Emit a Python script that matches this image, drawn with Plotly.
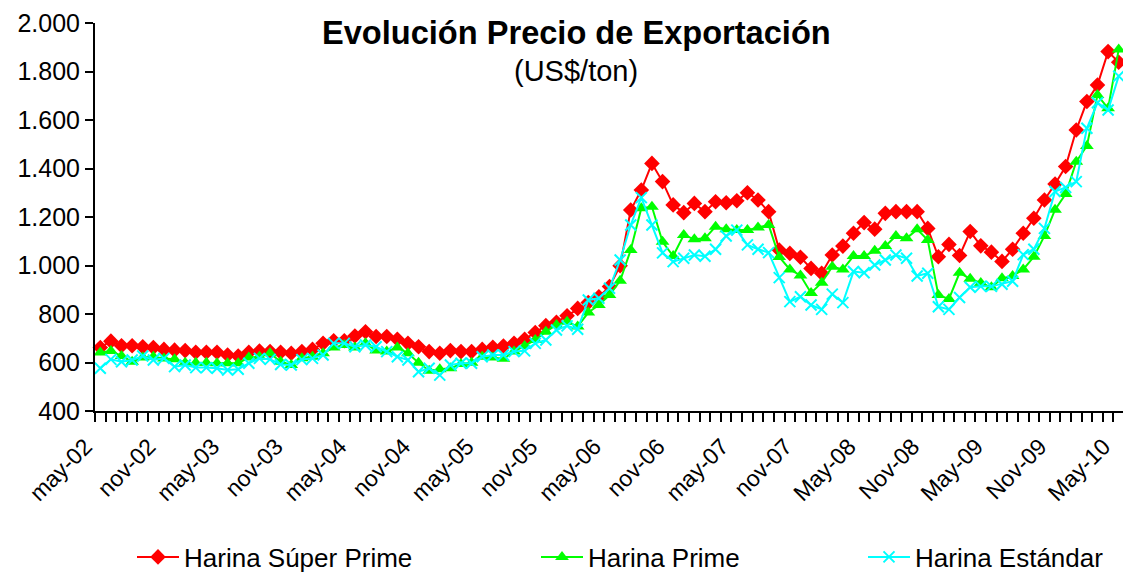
import plotly.graph_objects as go

# ---- data (US$/ton), monthly May-02 .. May-10 ----
mon_names = ["may", "jun", "jul", "ago", "sep", "oct", "nov", "dic", "ene", "feb", "mar", "abr"]
categories = []
for k in range(97):
    m = k % 12
    yy = 2 + (k + 4) // 12
    categories.append(f"{mon_names[m]}-{yy:02d}")

super_prime = [662, 688, 669, 669, 665, 662, 654, 651, 649, 642, 642, 642, 631, 627, 642, 647,
               645, 642, 638, 645, 654, 679, 690, 690, 709, 727, 707, 707, 696, 679, 665, 645,
               638, 649, 645, 645, 654, 663, 668, 679, 696, 724, 752, 766, 793, 823, 847, 871,
               913, 999, 1229, 1311, 1421, 1346, 1250, 1218, 1256, 1222, 1263, 1259, 1267, 1300,
               1270, 1222, 1064, 1050, 1034, 988, 968, 1043, 1080, 1133, 1177, 1150, 1215, 1222,
               1222, 1222, 1153, 1036, 1087, 1041, 1140, 1081, 1055, 1017, 1067, 1133, 1195, 1270,
               1336, 1408, 1559, 1676, 1744, 1882, 1838]
prime = [641, 647, 627, 603, 621, 624, 617, 613, 599, 599, 599, 597, 597, 597, 621, 624,
         638, 603, 590, 618, 624, 638, 662, 672, 662, 679, 649, 645, 662, 638, 599, 566,
         572, 576, 594, 599, 624, 621, 615, 645, 668, 693, 727, 755, 768, 748, 806, 837,
         878, 937, 1064, 1236, 1242, 1098, 1039, 1126, 1108, 1112, 1160, 1149, 1146, 1146,
         1157, 1167, 1035, 984, 959, 887, 929, 995, 984, 1039, 1039, 1061, 1080, 1122,
         1112, 1149, 1105, 878, 862, 970, 945, 928, 910, 947, 957, 984, 1036, 1122,
         1230, 1295, 1428, 1493, 1703, 1648, 1891]
estandar = [576, 613, 603, 610, 627, 610, 617, 583, 590, 579, 579, 576, 569, 572, 597, 617,
            613, 592, 590, 612, 617, 631, 679, 679, 665, 672, 665, 645, 624, 610, 562, 576,
            548, 590, 597, 597, 624, 631, 631, 645, 648, 679, 693, 734, 751, 737, 858, 865,
            906, 1023, 1167, 1280, 1167, 1052, 1016, 1030, 1043, 1038, 1067, 1122, 1146, 1085,
            1067, 1053, 950, 851, 871, 837, 819, 882, 847, 975, 970, 1002, 1023, 1043,
            1030, 957, 968, 830, 819, 868, 910, 914, 914, 923, 935, 1045, 1067, 1153,
            1305, 1322, 1346, 1566, 1671, 1641, 1781]

tick_labels = ["may-02", "nov-02", "may-03", "nov-03", "may-04", "nov-04", "may-05", "nov-05",
               "may-06", "nov-06", "may-07", "nov-07", "May-08", "Nov-08", "May-09", "Nov-09",
               "May-10"]
y_ticks = [400, 600, 800, 1000, 1200, 1400, 1600, 1800, 2000]
y_tick_text = ["400", "600", "800", "1.000", "1.200", "1.400", "1.600", "1.800", "2.000"]

x = list(range(len(categories)))
FONT = "Liberation Sans, Arial, sans-serif"

fig = go.Figure()
fig.add_trace(go.Scatter(
    x=x, y=super_prime, name="Harina Súper Prime", mode="lines+markers",
    line=dict(color="#FF0000", width=2),
    marker=dict(symbol="diamond", size=12, color="#FF0000"),
    customdata=categories, hovertemplate="%{customdata}: %{y}<extra></extra>",
    cliponaxis=False, legend="legend"))
fig.add_trace(go.Scatter(
    x=x, y=prime, name="Harina Prime", mode="lines+markers",
    line=dict(color="#00FF00", width=2),
    marker=dict(symbol="triangle-up", size=12, color="#00FF00"),
    customdata=categories, hovertemplate="%{customdata}: %{y}<extra></extra>",
    cliponaxis=False, legend="legend2"))
fig.add_trace(go.Scatter(
    x=x, y=estandar, name="Harina Estándar", mode="lines+markers",
    line=dict(color="#00FFFF", width=2),
    marker=dict(symbol="x-thin", size=11, color="#00FFFF", line=dict(color="#00FFFF", width=2)),
    customdata=categories, hovertemplate="%{customdata}: %{y}<extra></extra>",
    cliponaxis=False, legend="legend3"))

# The page body has an 8px default margin: the figure starts at page (8, 8).
OFF = 8
W, H = 1118, 564
PL, PR, PT, PB = 95, 1124, 23, 411          # plot area in page pixels
L, R, T = PL - OFF, W - (PR - OFF), PT - OFF
B = H - (PB - OFF)
pw = W - L - R
ph = H - T - B

def px_x(px):
    return (px - OFF - L) / pw

def px_y(py):
    return (H - B - (py - OFF)) / ph

leg_common = dict(orientation="h", yanchor="middle", xanchor="left", y=px_y(557),
                  font=dict(family=FONT, size=26, color="black"), bgcolor="rgba(0,0,0,0)",
                  itemwidth=42, borderwidth=0)

fig.update_layout(
    width=W, height=H,
    margin=dict(l=L, r=R, t=T, b=B, autoexpand=False),
    paper_bgcolor="white", plot_bgcolor="white",
    font=dict(family=FONT, size=22, color="black"),
    showlegend=True,
    legend=dict(leg_common, x=px_x(132)),
    legend2=dict(leg_common, x=px_x(536)),
    legend3=dict(leg_common, x=px_x(863)),
    annotations=[
        dict(text="<b>Evolución Precio de Exportación</b>", x=px_x(576), y=px_y(32),
             xref="paper", yref="paper", showarrow=False, xanchor="center", yanchor="middle",
             font=dict(family=FONT, size=32.6, color="black")),
        dict(text="(US$/ton)", x=px_x(576), y=px_y(71),
             xref="paper", yref="paper", showarrow=False, xanchor="center", yanchor="middle",
             font=dict(family=FONT, size=29, color="black")),
    ],
)

fig.update_xaxes(
    range=[-0.5, len(categories) - 0.5], automargin=False,
    tickmode="array", tickvals=[i * 6 for i in range(len(tick_labels))], ticktext=tick_labels,
    ticks="", tickangle=-45, tickfont=dict(family=FONT, size=23, color="black"),
    ticklabelstandoff=11, ticklabelshift=-15,
    showline=True, linecolor="black", linewidth=2,
    showgrid=False, zeroline=False,
    minor=dict(tick0=-0.5, dtick=1, ticks="outside", ticklen=9, tickwidth=1.5,
               tickcolor="black", showgrid=False),
)
fig.update_yaxes(
    range=[400, 2000], tickmode="array", tickvals=y_ticks, ticktext=y_tick_text, automargin=False,
    ticks="outside", ticklen=8, tickwidth=1.5, tickcolor="black",
    tickfont=dict(family=FONT, size=25, color="black"),
    showline=True, linecolor="black", linewidth=2,
    showgrid=False, zeroline=False,
)

fig.write_html("out.html")
